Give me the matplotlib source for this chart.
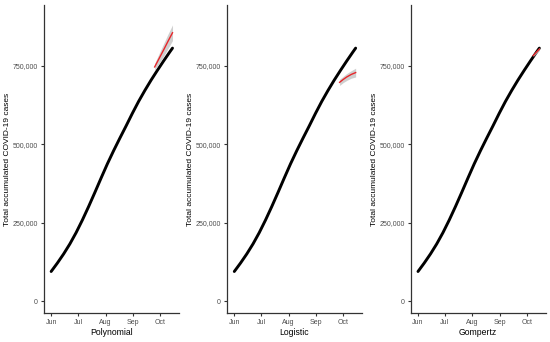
import pandas as pd
import matplotlib
matplotlib.use('Agg')
import matplotlib.pyplot as plt
import matplotlib.dates as mdates
from matplotlib.ticker import FuncFormatter

plt.rcParams['font.family'] = ['Liberation Sans', 'DejaVu Sans']

obs_dates = pd.to_datetime([
    '2020-06-01', '2020-06-08', '2020-06-15', '2020-06-22', '2020-06-29',
    '2020-07-06', '2020-07-13', '2020-07-20', '2020-07-27', '2020-08-03',
    '2020-08-10', '2020-08-17', '2020-08-24', '2020-08-31', '2020-09-07',
    '2020-09-14', '2020-09-21', '2020-09-28', '2020-10-05', '2020-10-12',
    '2020-10-15'])
obs_cases = [94000, 121000, 150000, 182000, 218000,
             258000, 301000, 346000, 392000, 437000,
             479000, 519000, 558000, 598000, 636000,
             671000, 704000, 735000, 765000, 794000,
             806000]

# model forecasts with confidence band
poly_dates = pd.to_datetime(['2020-09-25', '2020-09-30', '2020-10-05', '2020-10-10', '2020-10-15'])
poly_fit = [746000, 773000, 800000, 828000, 855000]
poly_lo = [736000, 757000, 780000, 805000, 830000]
poly_hi = [757000, 789000, 820000, 851000, 880000]

logi_dates = pd.to_datetime(['2020-09-27', '2020-10-01', '2020-10-05', '2020-10-10', '2020-10-15'])
logi_fit = [697000, 706000, 714000, 722000, 728000]
logi_lo = [687000, 696000, 703000, 710000, 714000]
logi_hi = [707000, 716000, 725000, 734000, 742000]

gomp_dates = pd.to_datetime(['2020-10-08', '2020-10-11', '2020-10-15'])
gomp_fit = [782000, 791000, 803000]
gomp_lo = [779000, 787000, 798000]
gomp_hi = [785000, 795000, 808000]

models = [
    ('Polynomial', poly_dates, poly_fit, poly_lo, poly_hi),
    ('Logistic', logi_dates, logi_fit, logi_lo, logi_hi),
    ('Gompertz', gomp_dates, gomp_fit, gomp_lo, gomp_hi),
]

fig = plt.figure(figsize=(5.5, 3.42), dpi=100)
lefts = [0.080, 0.413, 0.747]

for left, (name, d, fit, lo, hi) in zip(lefts, models):
    ax = fig.add_axes([left, 0.085, 0.245, 0.90])
    ax.plot(obs_dates, obs_cases, color='black', linewidth=2.1, solid_capstyle='round', zorder=2)
    ax.fill_between(d, lo, hi, color='#c4c4c4', alpha=0.8, linewidth=0, zorder=3)
    ax.plot(d, fit, color='#e8262a', linewidth=1.0, zorder=4)

    ax.set_xlim(pd.Timestamp('2020-05-24'), pd.Timestamp('2020-10-22'))
    ax.set_ylim(-38000, 943000)
    ax.set_yticks([0, 250000, 500000, 750000])
    ax.yaxis.set_major_formatter(FuncFormatter(lambda v, p: f'{int(v):,}'))
    ax.xaxis.set_major_locator(mdates.MonthLocator(bymonth=[6, 7, 8, 9, 10]))
    ax.xaxis.set_major_formatter(mdates.DateFormatter('%b'))

    for s in ['top', 'right']:
        ax.spines[s].set_visible(False)
    for s in ['left', 'bottom']:
        ax.spines[s].set_color('#333333')
        ax.spines[s].set_linewidth(0.9)
    ax.tick_params(axis='both', labelsize=5, labelcolor='#4d4d4d', color='#333333',
                   length=2.5, width=0.8, pad=2)
    ax.set_ylabel('Total accumulated COVID-19 cases', fontsize=6, labelpad=1)
    ax.set_xlabel(name, fontsize=6.2, labelpad=1.5)

plt.savefig('out.png', dpi=100)
